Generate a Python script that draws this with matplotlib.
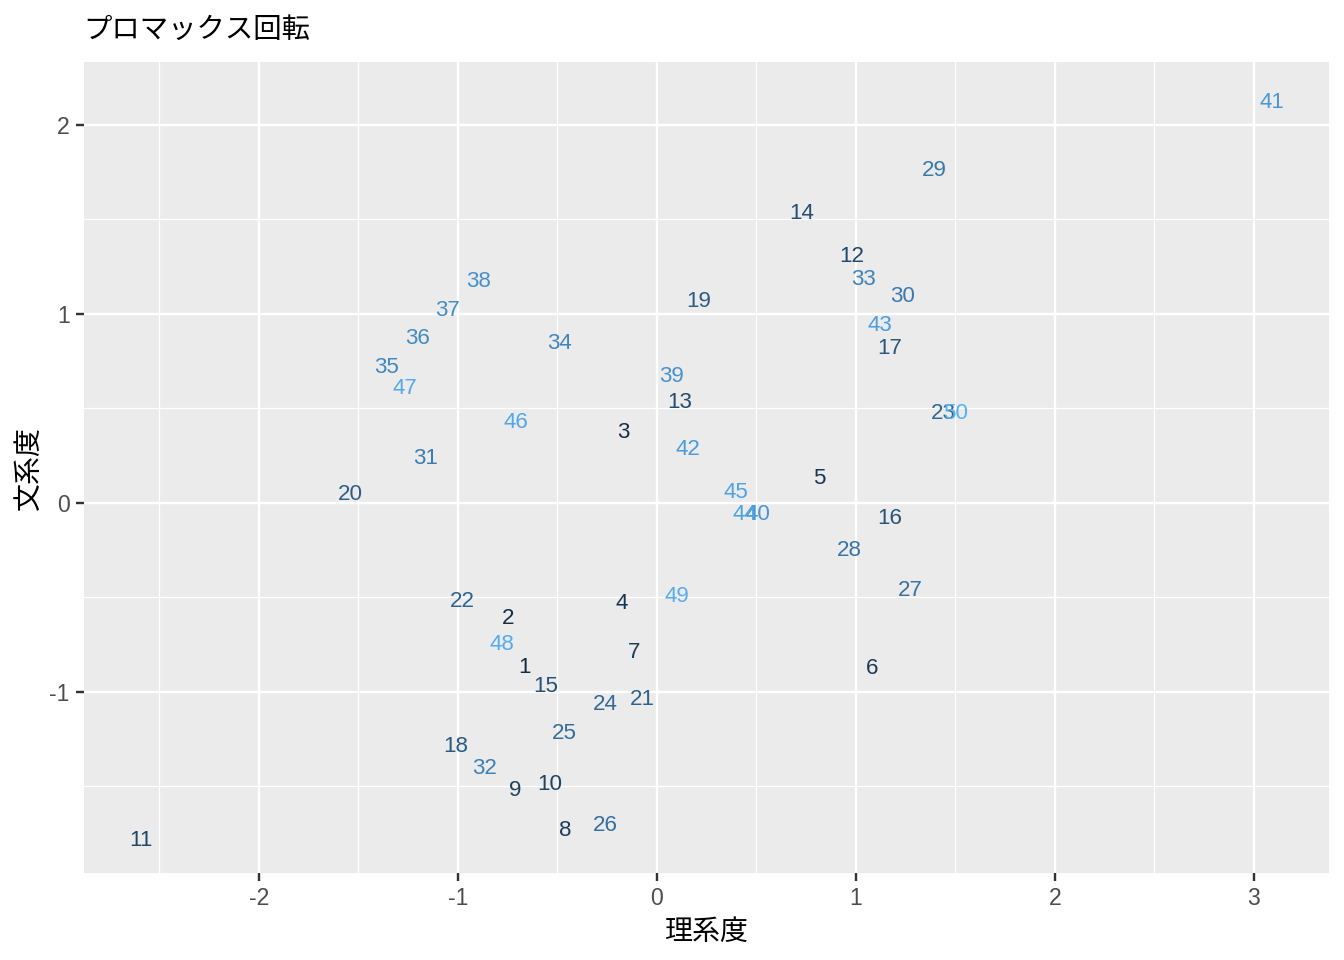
import numpy as np
import matplotlib
matplotlib.use("Agg")
import matplotlib.pyplot as plt
from matplotlib.colors import LinearSegmentedColormap
from matplotlib.transforms import offset_copy

ids = list(range(1, 51))
x_vals = [-0.663, -0.749, -0.171, -0.176, 0.814, 1.080, -0.116, -0.462, -0.714, -0.538,
          -2.594, 0.980, 0.116, 0.729, -0.558, 1.171, 1.171, -1.010, 0.211, -1.538,
          -0.075, -0.975, 1.440, -0.261, -0.467, -0.261, 1.276, 0.965, 1.392, 1.236,
          -1.161, -0.864, 1.040, -0.487, -1.357, -1.201, -1.050, -0.894, 0.075, 0.507,
          3.093, 0.156, 1.121, 0.444, 0.397, -0.709, -1.266, -0.779, 0.101, 1.503]
y_vals = [-0.850, -0.591, 0.393, -0.512, 0.150, -0.856, -0.771, -1.713, -1.501, -1.469,
          -1.764, 1.324, 0.552, 1.552, -0.951, -0.062, 0.837, -1.268, 1.086, 0.065,
          -1.020, -0.501, 0.493, -1.046, -1.200, -1.686, -0.443, -0.231, 1.779, 1.113,
          0.255, -1.385, 1.202, 0.864, 0.737, 0.890, 1.038, 1.192, 0.689, -0.041,
          2.137, 0.303, 0.959, -0.041, 0.075, 0.446, 0.626, -0.729, -0.475, 0.493]

title = "プロマックス回転"
xlabel = "理系度"
ylabel = "文系度"
xticks = [-2, -1, 0, 1, 2, 3]
yticks = [-1, 0, 1, 2]

cmap = LinearSegmentedColormap.from_list("gg", ["#132B43", "#56B1F7"])
JP = ["Noto Sans CJK JP", "DejaVu Sans"]
LAT = ["Liberation Sans", "DejaVu Sans"]

fig = plt.figure(figsize=(1344/144, 960/144), dpi=144)
ax = fig.add_axes([84/1344, 1-873/960, 1245/1344, 811/960])
ax.set_facecolor("#EBEBEB")
for s in ax.spines.values():
    s.set_visible(False)

xr = max(x_vals) - min(x_vals)
yr = max(y_vals) - min(y_vals)
ax.set_xlim(min(x_vals) - 0.05*xr, max(x_vals) + 0.05*xr)
ax.set_ylim(min(y_vals) - 0.05*yr, max(y_vals) + 0.05*yr)

ax.set_xticks(xticks)
ax.set_yticks(yticks)
ax.set_xticklabels([str(t) for t in xticks])
ax.set_yticklabels([str(t) for t in yticks])
ax.set_xticks([-2.5, -1.5, -0.5, 0.5, 1.5, 2.5], minor=True)
ax.set_yticks([-1.5, -0.5, 0.5, 1.5], minor=True)
ax.grid(which="major", color="white", linewidth=1.2)
ax.grid(which="minor", color="white", linewidth=0.6)
ax.set_axisbelow(True)
ax.tick_params(which="major", length=3.8, width=1.2, color="#333333",
               labelsize=11.5, labelcolor="#4D4D4D", pad=3.3)
ax.tick_params(which="minor", length=0)
for lab in ax.get_xticklabels() + ax.get_yticklabels():
    lab.set_fontfamily(LAT)

tr = offset_copy(ax.transData, fig=fig, x=0, y=-1.5, units="dots")
lo, hi = min(ids), max(ids)
for i, xv, yv in zip(ids, x_vals, y_vals):
    ax.text(xv, yv, str(i), color=cmap((i - lo) / (hi - lo)), fontsize=11.2,
            ha="center", va="center_baseline", family=LAT, transform=tr)

ax.set_xlabel(xlabel, fontsize=14, family=JP, labelpad=3.5)
ax.set_ylabel(ylabel, fontsize=14, family=JP, labelpad=3)
fig.text(83/1344, 1-30/960, title, fontsize=14.2, ha="left", va="center", family=JP)

fig.savefig("out.png", dpi=144)
